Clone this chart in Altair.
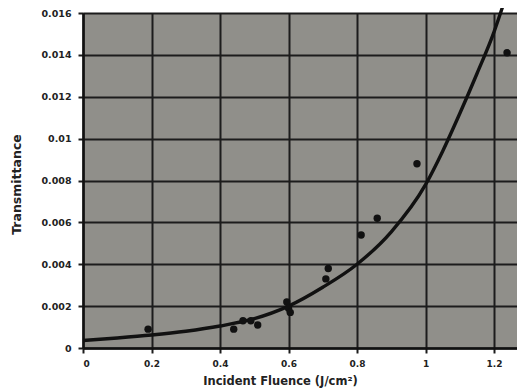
import altair as alt
import pandas as pd

# Measured data points (Incident fluence J/cm^2, transmittance)
pt_x = [0.19, 0.44, 0.467, 0.49, 0.51, 0.595, 0.60, 0.605, 0.709, 0.716, 0.812, 0.859, 0.975, 1.238]
pt_y = [0.0009, 0.0009, 0.0013, 0.0013, 0.0011, 0.0022, 0.0019, 0.0017, 0.0033, 0.0038, 0.0054, 0.0062, 0.0088, 0.0141]

# Fitted curve
fit_x = [0.0, 0.1, 0.2, 0.3, 0.4, 0.5, 0.6, 0.7, 0.8, 0.9, 1.0, 1.05, 1.1, 1.15, 1.2, 1.225]
fit_y = [0.00036, 0.00048, 0.00062, 0.0008, 0.00105, 0.00140, 0.00200, 0.00290, 0.00400, 0.00555, 0.0078, 0.0094, 0.0112, 0.0131, 0.0151, 0.0163]

x_ticks = [0, 0.2, 0.4, 0.6, 0.8, 1.0, 1.2]
y_ticks = [0, 0.002, 0.004, 0.006, 0.008, 0.010, 0.012, 0.014, 0.016]

pts = pd.DataFrame({"x": pt_x, "y": pt_y})
fit = pd.DataFrame({"x": fit_x, "y": fit_y})

FONT = "DejaVu Sans"

xscale = alt.Scale(domain=[0, 1.267], nice=False, zero=False)
yscale = alt.Scale(domain=[0, 0.016], nice=False, zero=False)

xaxis = alt.Axis(
    values=x_ticks, format="~g", title="Incident Fluence (J/cm²)",
    grid=True, gridColor="#1c1c1c", gridWidth=2, gridOpacity=1,
    domain=True, domainColor="#111111", domainWidth=2.5,
    ticks=True, tickSize=5, tickColor="#1c1c1c", tickWidth=2,
    labelFont=FONT, labelFontWeight="bold", labelFontSize=9, labelColor="#222222",
    labelPadding=6,
    titleFont=FONT, titleFontWeight="bold", titleFontSize=11.5, titleColor="#222222",
    titleX=197, titleY=36, titleAlign="center", titleBaseline="alphabetic",
)
yaxis = alt.Axis(
    values=y_ticks, format="~g", title="Transmittance",
    grid=True, gridColor="#1c1c1c", gridWidth=2, gridOpacity=1,
    domain=True, domainColor="#111111", domainWidth=2.5,
    ticks=True, tickSize=5, tickColor="#1c1c1c", tickWidth=2,
    labelFont=FONT, labelFontWeight="bold", labelFontSize=9.5, labelColor="#222222",
    labelPadding=7,
    titleFont=FONT, titleFontWeight="bold", titleFontSize=12.5, titleColor="#222222",
    titleX=-67, titleY=171, titleAngle=-90, titleAlign="center", titleBaseline="middle",
)

line = alt.Chart(fit).mark_line(
    color="#111111", strokeWidth=3.4, interpolate="monotone", clip=False
).encode(
    x=alt.X("x:Q", scale=xscale, axis=xaxis),
    y=alt.Y("y:Q", scale=yscale, axis=yaxis),
)

points = alt.Chart(pts).mark_circle(
    color="#111111", size=55, opacity=1
).encode(
    x=alt.X("x:Q", scale=xscale),
    y=alt.Y("y:Q", scale=yscale),
)

chart = alt.layer(line, points).properties(
    width=434, height=335,
    autosize=alt.AutoSizeParams(type="none"),
    padding={"left": 75, "top": 5, "right": 0, "bottom": 40},
    background="white",
).configure_view(
    fill="#908f8a", stroke=None
)

chart.save("out.html", embed_options={"renderer": "svg", "actions": False})
